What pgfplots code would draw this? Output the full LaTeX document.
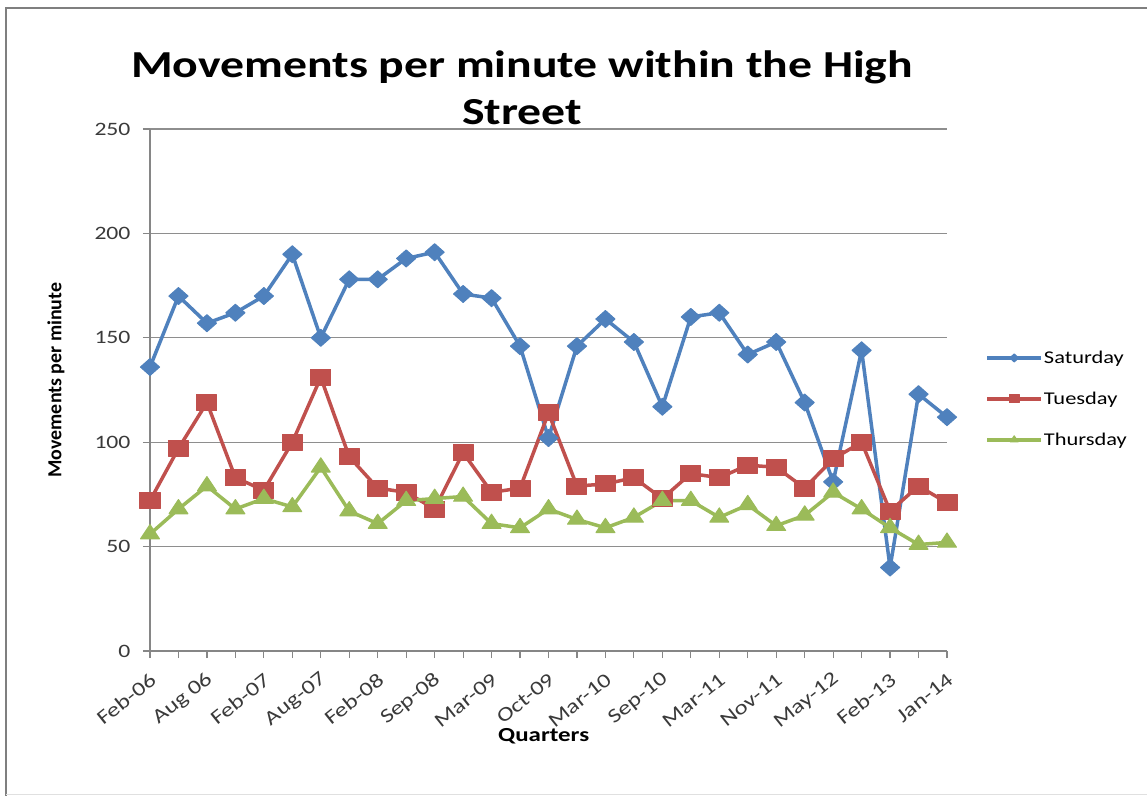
\documentclass[border=0pt]{standalone}
\usepackage{pgfplots}
\usepackage{pgfplotstable}
\pgfplotsset{compat=1.18}
\usepackage{fontspec}
\setmainfont{Carlito}[FakeStretch=1.25]
\newfontfamily\plainfont{Carlito}
\definecolor{sat}{HTML}{4F81BD}
\definecolor{tue}{HTML}{C0504D}
\definecolor{thu}{HTML}{9BBB59}
\definecolor{axgray}{HTML}{868686}
\definecolor{gridgray}{HTML}{8E8E8E}
\definecolor{framegray}{HTML}{7F7F7F}
\definecolor{labgray}{HTML}{3A3A3A}

\pgfplotstableread{
x sat tue thu
0 136 72 56
1 170 97 68
2 157 119 79
3 162 83 68
4 170 77 73
5 190 100 69
6 150 131 88
7 178 93 67
8 178 78 61
9 188 76 72
10 191 68 73
11 171 95 74
12 169 76 61
13 146 78 59
14 102 114 68
15 146 79 63
16 159 80 59
17 148 83 64
18 117 73 72
19 160 85 72
20 162 83 64
21 142 89 70
22 148 88 60
23 119 78 65
24 81 92 76
25 144 100 68
26 40 67 59
27 123 79 51
28 112 71 52
}\datatable

\begin{document}
\begin{tikzpicture}
\path[use as bounding box] (0,0) rectangle (1147bp,-796bp);
\fill[white] (0,0) rectangle (1147bp,-796bp);
\draw[framegray, line width=2bp] (6bp,-796bp) -- (6bp,-8bp) -- (1147bp,-8bp);
\draw[black!12, line width=1bp] (6bp,-794bp) -- (1147bp,-794bp);
\begin{axis}[
  scale only axis, width=797bp, height=522bp,
  at={(150bp,-651bp)}, anchor=south west,
  xmin=0, xmax=28, ymin=0, ymax=250,
  clip=false,
  ytick={0,50,...,250},
  xtick={0,2,...,28}, minor xtick={1,3,...,27},
  xticklabels={Feb-06,Aug 06,Feb-07,Aug-07,Feb-08,Sep-08,Mar-09,Oct-09,Mar-10,Sep-10,Mar-11,Nov-11,May-12,Feb-13,Jan-14},
  axis x line*=bottom, axis y line*=left,
  axis line style={draw=axgray, line width=1.2bp, -},
  tick align=outside, major tick length=7bp, minor tick length=7bp,
  every tick/.style={draw=axgray, line width=1.2bp},
  minor tick style={draw=axgray, line width=1.2bp},
  ymajorgrids, grid style={draw=gridgray, line width=1.2bp},
  /pgf/number format/assume math mode=true,
  tick label style={font=\fontsize{19}{22}\selectfont, text=labgray},
  yticklabel style={xshift=-9bp},
  xticklabel style={rotate=38.7, anchor=east, xshift=-6bp, yshift=-17bp, font=\fontsize{20}{22}\selectfont},
  xlabel={\bfseries Quarters},
  xlabel style={font=\fontsize{20}{24}\selectfont, at={(axis description cs:0.494,-0.163)}, anchor=center},
  ylabel={\plainfont\bfseries Movements per minute},
  ylabel style={font=\fontsize{20}{24}\selectfont, at={(axis description cs:-0.118,0.519)}, anchor=center},
  title={Movements per minute within the High\\Street},
  title style={align=center, font=\bfseries\fontsize{38.3}{47}\selectfont, at={(axis description cs:0.467,1)}, anchor=south, inner sep=0pt, yshift=-2bp},
  legend style={draw=none, fill=none, at={(axis description cs:1.048,0.483)}, anchor=west,
    font=\fontsize{18}{22}\selectfont, row sep=23bp, inner sep=0pt,
    nodes={inner xsep=1bp}},
  legend cell align=left,
  legend image code/.code={\draw[mark repeat=2,mark phase=2, mark size=4bp] plot coordinates {(0bp,0bp)(27bp,0bp)(54bp,0bp)};},
  every axis plot/.append style={line width=3.5bp, line join=round},
]
\addplot[color=sat, mark=diamond*, mark size=8.5bp, mark options={xscale=1.5, line width=1bp}] table[x=x, y=sat] {\datatable};
\addlegendentry{Saturday}
\addplot[color=tue, mark=square*, mark size=8bp, mark options={xscale=1.25, line width=1bp}] table[x=x, y=tue] {\datatable};
\addlegendentry{Tuesday}
\addplot[color=thu, mark=triangle*, mark size=9.5bp, mark options={xscale=1.15, line width=1bp}] table[x=x, y=thu] {\datatable};
\addlegendentry{Thursday}
\end{axis}
\end{tikzpicture}
\end{document}
